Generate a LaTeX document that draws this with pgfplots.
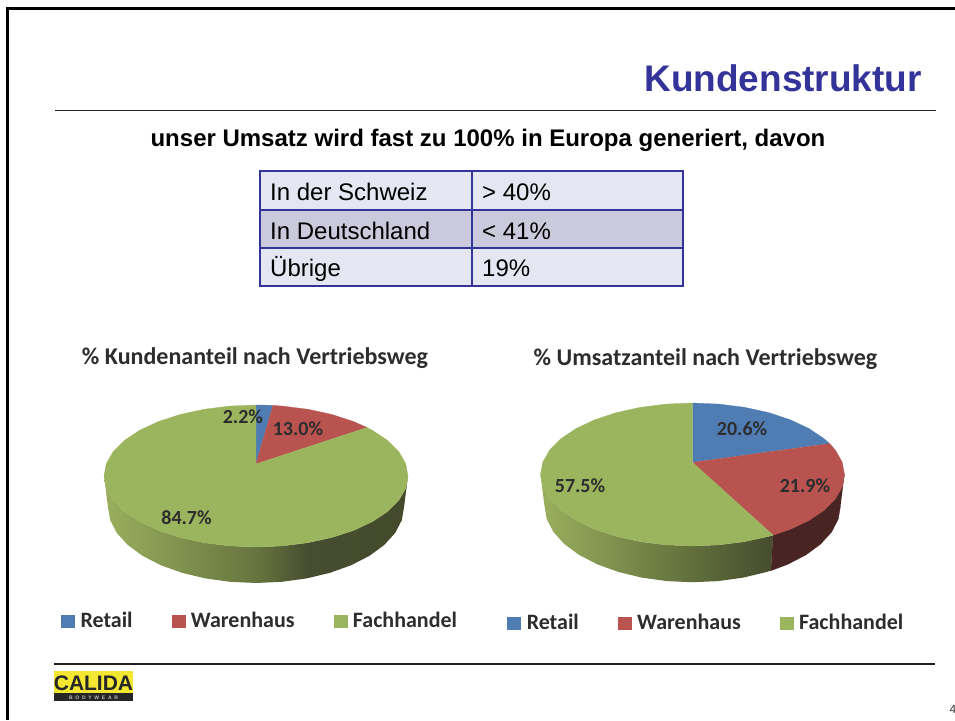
\documentclass[border=0pt]{standalone}
\usepackage{fontspec}
\usepackage{pgfplots}
\pgfplotsset{compat=1.18}
\setmainfont{Liberation Sans}
\newfontfamily\carl{Carlito}
\newfontfamily\logofont[LetterSpace=55]{Liberation Sans}
\definecolor{navy}{RGB}{51,51,153}
\definecolor{rowlight}{RGB}{228,231,241}
\definecolor{rowdark}{RGB}{203,202,221}
\definecolor{piegreen}{RGB}{155,181,95}
\definecolor{piered}{RGB}{184,83,80}
\definecolor{pieblue}{RGB}{79,125,179}
\definecolor{piesidered}{RGB}{72,37,35}
\definecolor{chartgray}{RGB}{45,45,45}
\definecolor{ruledark}{RGB}{35,31,32}
\definecolor{logoyellow}{RGB}{243,231,50}
\pgfdeclarehorizontalshading{sideleft}{100bp}{
  rgb(0bp)=(0.604,0.686,0.369); rgb(25bp)=(0.604,0.686,0.369);
  rgb(50bp)=(0.400,0.459,0.247); rgb(58.75bp)=(0.278,0.302,0.188);
  rgb(75bp)=(0.267,0.290,0.173); rgb(100bp)=(0.267,0.290,0.173)}
\pgfdeclarehorizontalshading{sideright}{100bp}{
  rgb(0bp)=(0.604,0.686,0.369); rgb(25bp)=(0.604,0.686,0.369);
  rgb(57.7bp)=(0.380,0.435,0.235);
  rgb(75bp)=(0.275,0.298,0.180); rgb(100bp)=(0.275,0.298,0.180)}
\pgfplotsset{
  pie/.style={
    hide axis, scale only axis, clip=false,
    xmin=-1.1, xmax=1.1, ymin=-1.7, ymax=1.2,
    width=334.4pt,
    legend columns=3,
    legend cell align=left,
    legend image code/.code={\fill[##1] (0pt,-6pt) rectangle (13pt,6pt);},
    legend style={draw=none, fill=none, inner sep=0pt, anchor=west,
      font=\carl\bfseries\fontsize{22}{24}\selectfont\color{chartgray},
      nodes={inner sep=0pt, inner ysep=2pt},
      /tikz/every even column/.append style={column sep=39pt},
      /tikz/every odd column/.append style={column sep=6pt}},
    title style={font=\carl\bfseries\fontsize{24}{26}\selectfont\color{chartgray}, anchor=base, inner sep=0pt},
  },
}
\tikzset{tabcell/.style={anchor=base west, inner sep=0pt, text=black, font=\fontsize{24}{26}\selectfont},
  plabel/.style={font=\carl\bfseries\fontsize{20}{22}\selectfont, text=chartgray, inner sep=0pt}}
\begin{document}
\begin{tikzpicture}
\useasboundingbox (0,0) rectangle (955pt,720pt);
% ---- page furniture in pixel coordinates
\begin{axis}[at={(0,0)}, anchor=south west, hide axis, scale only axis, clip=false,
  width=955pt, height=720pt, xmin=0, xmax=955, ymin=0, ymax=720, y dir=reverse]
\draw[black, line width=3pt] (axis cs:7.5,720) -- (axis cs:7.5,8.5) -- (axis cs:955,8.5);
\draw[ruledark, line width=1pt] (axis cs:55,110.5) -- (axis cs:936,110.5);
\draw[ruledark, line width=2pt] (axis cs:54,664) -- (axis cs:935,664);
\node[anchor=base east, inner sep=0pt, text=navy, font=\bfseries\fontsize{37}{40}\selectfont] at (axis cs:922,91) {Kundenstruktur};
\node[anchor=base, inner sep=0pt, text=black, font=\bfseries\fontsize{24}{26}\selectfont] at (axis cs:488,146) {unser Umsatz wird fast zu 100\% in Europa generiert, davon};
% table
\fill[rowlight] (axis cs:260,171) rectangle (axis cs:683,209.5);
\fill[rowdark] (axis cs:260,209.5) rectangle (axis cs:683,248);
\fill[rowlight] (axis cs:260,248) rectangle (axis cs:683,286);
\draw[navy, line width=2pt] (axis cs:260,171) rectangle (axis cs:683,286);
\draw[navy, line width=2pt] (axis cs:260,209.5) -- (axis cs:683,209.5);
\draw[navy, line width=2pt] (axis cs:260,248) -- (axis cs:683,248);
\draw[navy, line width=2pt] (axis cs:472,171) -- (axis cs:472,286);
\node[tabcell] at (axis cs:270,200) {In der Schweiz};
\node[tabcell] at (axis cs:482,200) {> 40\%};
\node[tabcell] at (axis cs:270,239) {In Deutschland};
\node[tabcell] at (axis cs:482,239) {< 41\%};
\node[tabcell] at (axis cs:270,276) {Übrige};
\node[tabcell] at (axis cs:482,276) {19\%};
% logo
\fill[logoyellow] (axis cs:54,671) rectangle (axis cs:133,693);
\fill[black!85] (axis cs:54,693) rectangle (axis cs:133,701);
\node[anchor=base, inner sep=0pt, text=black!85, font=\bfseries\fontsize{21}{22}\selectfont] at (axis cs:93.5,690) {CALIDA};
\node[anchor=base, inner sep=0pt, text=black!25, font=\logofont\bfseries\fontsize{5}{6}\selectfont] at (axis cs:93.5,699) {BODYWEAR};
\node[anchor=base west, inner sep=0pt, text=black!80, font=\fontsize{12}{14}\selectfont] at (axis cs:949.5,713) {4};
\end{axis}
% ---- left pie
\begin{axis}[pie, at={(88.8pt,123.3pt)}, anchor=south west, height=205.9pt,
  title={\% Kundenanteil nach Vertriebsweg},
  title style={at={(axis description cs:0.5,1)}, yshift=20pt, xshift=-1pt},
  legend style={at={(axis description cs:-0.083,-0.118)}}]
\addplot[forget plot, draw=none, shading=sideleft] coordinates {
 (1,0) (.9848,-.1736) (.9397,-.3420) (.8660,-.5) (.7660,-.6428) (.6428,-.7660) (.5,-.8660) (.3420,-.9397) (.1736,-.9848) (0,-1)
 (-.1736,-.9848) (-.3420,-.9397) (-.5,-.8660) (-.6428,-.7660) (-.7660,-.6428) (-.8660,-.5) (-.9397,-.3420) (-.9848,-.1736) (-1,0)
 (-.974,-.437) (-.9592,-.6228) (-.9153,-.803) (-.8435,-.972) (-.7461,-1.1248) (-.6261,-1.2566) (-.487,-1.3636) (-.3331,-1.4425) (-.1691,-1.4907) (0,-1.507)
 (.1691,-1.4907) (.3331,-1.4425) (.487,-1.3636) (.6261,-1.2566) (.7461,-1.1248) (.8435,-.972) (.9153,-.803) (.9592,-.6228) (.974,-.437)};
\addplot[fill=pieblue, draw=pieblue, line width=.3pt] coordinates {
 (0,.169) (0,1) (.0523,.9986) (.1115,.9938)};
\addlegendentry{Retail}
\addplot[fill=piered, draw=piered, line width=.3pt] coordinates {
 (0,.169) (.1115,.9938) (.1736,.9848) (.3420,.9397) (.5,.8660) (.6428,.7660) (.7310,.6824)};
\addlegendentry{Warenhaus}
\addplot[fill=piegreen, draw=piegreen, line width=.3pt] coordinates {
 (0,.169) (.7310,.6824) (.7660,.6428) (.8660,.5) (.9397,.3420) (.9848,.1736) (1,0)
 (.9848,-.1736) (.9397,-.3420) (.8660,-.5) (.7660,-.6428) (.6428,-.7660) (.5,-.8660) (.3420,-.9397) (.1736,-.9848) (0,-1)
 (-.1736,-.9848) (-.3420,-.9397) (-.5,-.8660) (-.6428,-.7660) (-.7660,-.6428) (-.8660,-.5) (-.9397,-.3420) (-.9848,-.1736) (-1,0)
 (-.9848,.1736) (-.9397,.3420) (-.8660,.5) (-.7660,.6428) (-.6428,.7660) (-.5,.8660) (-.3420,.9397) (-.1736,.9848) (0,1)};
\addlegendentry{Fachhandel}
\node[plabel] at (axis cs:-.086,.83) {2.2\%};
\node[plabel] at (axis cs:.276,.66) {13.0\%};
\node[plabel] at (axis cs:-.457,-.592) {84.7\%};
\end{axis}
% ---- right pie
\begin{axis}[pie, at={(525.3pt,123.95pt)}, anchor=south west, height=207.35pt,
  title={\% Umsatzanteil nach Vertriebsweg},
  title style={at={(axis description cs:0.5,1)}, yshift=16.7pt, xshift=13pt},
  legend style={at={(axis description cs:-0.054,-0.13)}}]
\addplot[forget plot, fill=piesidered, draw=piesidered, line width=.3pt] coordinates {
 (1,0) (.9848,-.1736) (.9397,-.3420) (.8660,-.5) (.7660,-.6428) (.6428,-.7660) (.5299,-.8480)
 (.5161,-1.3444) (.6261,-1.2566) (.7461,-1.1248) (.8435,-.972) (.9153,-.803) (.9592,-.6228) (.974,-.437)};
\addplot[forget plot, draw=none, shading=sideright] coordinates {
 (.5299,-.8480) (.5,-.8660) (.3420,-.9397) (.1736,-.9848) (0,-1)
 (-.1736,-.9848) (-.3420,-.9397) (-.5,-.8660) (-.6428,-.7660) (-.7660,-.6428) (-.8660,-.5) (-.9397,-.3420) (-.9848,-.1736) (-1,0)
 (-.974,-.437) (-.9592,-.6228) (-.9153,-.803) (-.8435,-.972) (-.7461,-1.1248) (-.6261,-1.2566) (-.487,-1.3636) (-.3331,-1.4425) (-.1691,-1.4907) (0,-1.507)
 (.1691,-1.4907) (.3331,-1.4425) (.487,-1.3636) (.5161,-1.3444)};
\addplot[fill=pieblue, draw=pieblue, line width=.3pt] coordinates {
 (0,.169) (0,1) (.1736,.9848) (.3420,.9397) (.5,.8660) (.6428,.7660) (.7660,.6428) (.8660,.5) (.9018,.4321)};
\addlegendentry{Retail}
\addplot[fill=piered, draw=piered, line width=.3pt] coordinates {
 (0,.169) (.9018,.4321) (.9397,.3420) (.9848,.1736) (1,0)
 (.9848,-.1736) (.9397,-.3420) (.8660,-.5) (.7660,-.6428) (.6428,-.7660) (.5299,-.8480)};
\addlegendentry{Warenhaus}
\addplot[fill=piegreen, draw=piegreen, line width=.3pt] coordinates {
 (0,.169) (.5299,-.8480) (.5,-.8660) (.3420,-.9397) (.1736,-.9848) (0,-1)
 (-.1736,-.9848) (-.3420,-.9397) (-.5,-.8660) (-.6428,-.7660) (-.7660,-.6428) (-.8660,-.5) (-.9397,-.3420) (-.9848,-.1736) (-1,0)
 (-.9848,.1736) (-.9397,.3420) (-.8660,.5) (-.7660,.6428) (-.6428,.7660) (-.5,.8660) (-.3420,.9397) (-.1736,.9848) (0,1)};
\addlegendentry{Fachhandel}
\node[plabel] at (axis cs:.326,.636) {20.6\%};
\node[plabel] at (axis cs:.74,-.161) {21.9\%};
\node[plabel] at (axis cs:-.74,-.161) {57.5\%};
\end{axis}
\end{tikzpicture}
\end{document}
